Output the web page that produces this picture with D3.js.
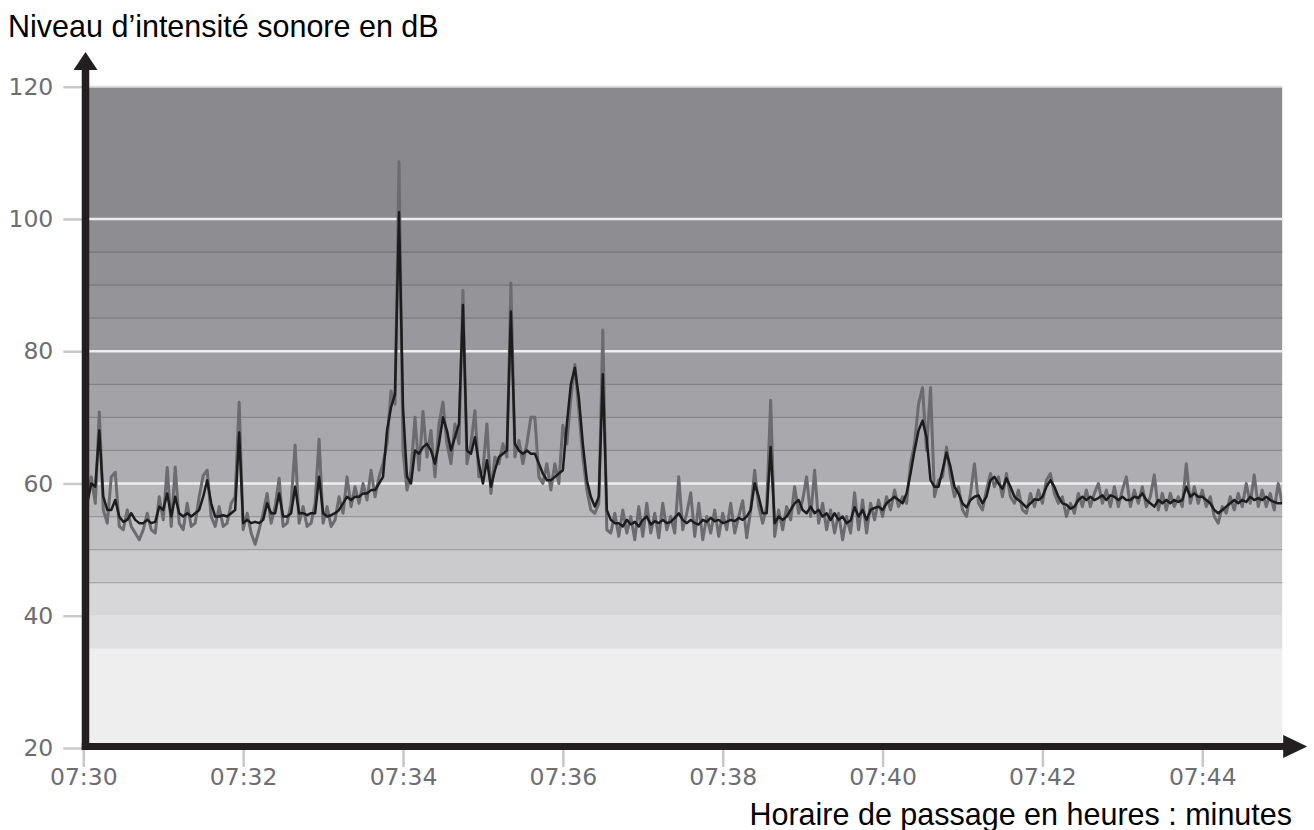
<!DOCTYPE html>
<html>
<head>
<meta charset="utf-8">
<script src="https://cdn.jsdelivr.net/npm/d3@7"></script>
<style>
  body { margin: 0; background: #fff; }
  svg { display: block; }
</style>
</head>
<body>
<svg id="chart" width="1314" height="830"></svg>
<script>
// time axis
const startTime = "07:30:00";
const endTime = "07:45:00";
const sampleStep = 3; // seconds between two readings
const xTickLabels = ["07:30", "07:32", "07:34", "07:36", "07:38", "07:40", "07:42", "07:44"];
const yTickValues = [20, 40, 60, 80, 100, 120];

// dB zones drawn behind the curves
const bandLevels = [20, 35, 40, 45, 50, 55, 60, 65, 70, 75, 80, 85, 90, 95, 100, 120];
const gridLevels = [45, 50, 55, 65, 70, 75, 85, 90, 95];
const whiteLevels = [60, 80, 100];

// smoothed level (black curve), one value every 3 s
const meanLevels = [
  58, 57, 60, 59.5, 68, 58, 56, 56, 57.5, 55,
  54.2, 54.5, 55.5, 54.5, 54, 54, 54.5, 54, 54.2, 56.5,
  56, 58.5, 55, 58, 55.5, 55, 55.5, 55, 55.5, 56,
  58, 60.5, 57, 55, 55, 55.2, 55, 55.5, 56, 67.7,
  54, 54.5, 54, 54.2, 54, 54.5, 57, 55.5, 55.5, 58.5,
  55, 55, 55.5, 59.5, 55.5, 55.5, 55.2, 55.5, 55.5, 61,
  55.5, 55, 55.2, 55.5, 56, 57, 58, 57.5, 58, 58,
  58.5, 58.5, 59, 59, 60, 61, 68, 71.5, 73.5, 101,
  71.5, 61, 60, 65, 64.5, 65.5, 66, 65, 63, 66,
  70, 68, 65, 67, 69, 87, 65, 64.5, 67, 63,
  60, 63.5, 59.5, 62, 64, 64.5, 65, 86, 66, 65,
  64.5, 65, 64.5, 64.5, 63, 61.5, 60.5, 60.5, 61, 61.5,
  62, 69, 75, 77.5, 73, 66, 60.5, 58, 56.5, 58,
  76.5, 56, 54.5, 54, 54, 53.5, 54.5, 53.8, 54.2, 53.5,
  54.5, 55, 53.8, 54.3, 54, 54.5, 54, 54.2, 54.8, 55.5,
  54.5, 54, 54.5, 54, 53.8, 54.5, 54.2, 54.8, 54.3, 54.5,
  54, 54.2, 54.5, 54.3, 54.8, 54.5, 55, 56, 60, 58,
  55.5, 55.5, 65.5, 54, 55, 54.5, 55, 56, 57, 57.5,
  56, 55.5, 56.5, 55.5, 56, 55, 55.5, 54.5, 55.5, 54.5,
  55, 54, 54.4, 56.4, 55, 56, 54.5, 56, 56.3, 56.5,
  56, 57, 57.5, 58, 57.5, 57, 58.5, 61.5, 65, 68,
  69.5, 67, 60.5, 59.5, 59.5, 62, 64.7, 62.5, 59.5, 58.5,
  57, 56.4, 57.5, 58, 58.2, 57, 58, 60.5, 61, 60,
  59.2, 60.8, 59.5, 58, 57.5, 57, 56.4, 57, 57.6, 57.5,
  58, 59.5, 60.5, 59.5, 58, 57, 56.8, 56.2, 56.5, 57.5,
  58, 57.5, 58, 57.5, 57.8, 58.2, 57.5, 58.2, 58, 57.5,
  58, 57.5, 57.5, 58, 57.8, 58.5, 57.5, 57, 56.5, 57.5,
  57, 57.5, 57, 57.5, 57.2, 57.5, 59.5, 58, 58.5, 58,
  58, 57.5, 57, 56, 55.5, 56, 56.5, 57, 57.5, 57,
  57.5, 57.2, 58, 57.5, 57.8, 57.5, 58, 57.5, 57.2, 57,
  57
];

// raw level (grey curve), same sampling
const rawLevels = [
  56.5, 58, 61, 57, 70.8, 56, 54, 61, 61.7, 53.5,
  53, 56, 53.5, 52.5, 51.5, 53, 55.5, 53, 52.5, 58,
  54.5, 62.4, 53.5, 62.5, 54, 53, 57, 53.5, 54, 58,
  61.2, 62, 55, 53.5, 56.5, 53.5, 54, 57, 58, 72.3,
  53, 55.5, 52.5, 50.8, 53, 55.5, 58.5, 54, 56.5, 60.8,
  53.5, 54, 57, 65.8, 54, 56.5, 53.5, 54, 57, 66.7,
  54, 56.5, 53.5, 54.5, 58, 55.5, 61, 56.5, 59.5, 57,
  60, 57.5, 62, 58, 61, 63, 66, 74, 72, 108.6,
  65, 59, 62, 70, 62, 70.9, 64, 68, 61, 69,
  72.3, 66, 63, 69, 66, 89.2, 63, 66, 71, 61,
  62, 69, 58.5, 64, 63, 66, 64, 90.3, 64, 66.5,
  63, 66, 70, 70, 61, 60, 63, 59, 63, 60,
  68.8, 66, 73, 78, 71, 64, 59, 56, 55.5, 57,
  83.2, 53, 52.5, 55.5, 52, 56, 52.5, 55, 51.5, 56.5,
  52, 57, 52.5, 55.5, 51.8, 57, 53, 55, 52.5, 61,
  53, 55.5, 58.6, 52, 57, 51.5, 55, 52.5, 56, 52,
  55.5, 53, 57, 52.5, 55, 57.4, 51.8, 56, 62, 56.5,
  54, 56.5, 72.6, 52, 56, 53, 56.5, 54.5, 59.5, 55.5,
  57.5, 61, 55, 62, 54, 57, 53, 56, 52.5, 55.5,
  51.5, 55, 52.5, 58.6, 53, 57.5, 52.5, 57, 54.5, 57.5,
  55, 58, 56, 59, 56.5, 58, 57, 63, 66, 72,
  74.5, 65, 74.5, 58, 60.5, 61, 65.5, 61, 58, 59.5,
  56, 55, 58.5, 63, 57, 56, 59, 61.5, 59.5, 61,
  58, 61.5, 58, 57, 59, 56, 55.5, 58.5, 56.5, 59,
  57, 60.5, 61.5, 58.5, 57, 58, 55, 57, 55.5, 58.5,
  56.5, 59, 56.5, 58.5, 60, 57, 59, 56.5, 59.5, 56.5,
  59, 61, 56.5, 59, 57, 59.5, 56.5, 58, 61.3, 56,
  58.5, 56, 58.5, 56.5, 58, 56.5, 63, 57, 59.5, 57,
  59, 56.5, 58, 55, 54, 56.5, 55.5, 58, 56, 58.5,
  56.5, 60, 57, 61.3, 56.5, 59, 56.5, 58.5, 56, 60,
  57
];

const bandFills = ["#eeeeee", "#e0e0e2", "#d7d7d9", "#cbcbcd", "#c1c1c4", "#b8b8bb", "#aeaeb2",
  "#a8a8ac", "#a3a3a7", "#9e9ea2", "#99999d", "#959599", "#919195", "#8e8e92", "#8a8a8e"];

const parseTime = d3.timeParse("%H:%M:%S");
const parseTick = d3.timeParse("%H:%M");
const t0 = parseTime(startTime);

const svg = d3.select("#chart");

const x = d3.scaleTime()
  .domain([t0, parseTime(endTime)])
  .range([83.3, 1282.2]);
const y = d3.scaleLinear()
  .domain([20, 120])
  .range([748, 86.7]);

const [left, right] = x.range();

// zones
const bands = d3.pairs(bandLevels).map((p, i) => ({ lo: p[0], hi: p[1], fill: bandFills[i] }));
svg.append("g")
  .selectAll("rect")
  .data(bands)
  .join("rect")
  .attr("x", left)
  .attr("width", right - left)
  .attr("y", d => y(d.hi))
  .attr("height", d => y(d.lo) - y(d.hi))
  .attr("fill", d => d.fill);

svg.append("g")
  .selectAll("line")
  .data(gridLevels)
  .join("line")
  .attr("x1", left).attr("x2", right)
  .attr("y1", d => y(d)).attr("y2", d => y(d))
  .attr("stroke", d => d3.color(bands.find(b => b.lo === d).fill).darker(0.55))
  .attr("stroke-width", 1.3);

svg.append("g")
  .selectAll("line")
  .data(whiteLevels)
  .join("line")
  .attr("x1", left).attr("x2", right)
  .attr("y1", d => y(d)).attr("y2", d => y(d))
  .attr("stroke", "#eeeeee")
  .attr("stroke-width", 2.6);

svg.append("line")
  .attr("x1", left).attr("x2", right)
  .attr("y1", y(120)).attr("y2", y(120))
  .attr("stroke", "#dcdcdc")
  .attr("stroke-width", 2);

// curves
svg.append("defs").append("clipPath").attr("id", "plot")
  .append("rect")
  .attr("x", left).attr("y", y(120))
  .attr("width", right - left).attr("height", y(20) - y(120));

const timeAt = i => d3.timeSecond.offset(t0, i * sampleStep);
const line = d3.line()
  .x((d, i) => x(timeAt(i)))
  .y(d => y(d));

const curves = svg.append("g").attr("clip-path", "url(#plot)");
curves.append("path")
  .datum(rawLevels)
  .attr("d", line)
  .attr("fill", "none")
  .attr("stroke", "#6c6c70")
  .attr("stroke-width", 3)
  .attr("stroke-linejoin", "round");
curves.append("path")
  .datum(meanLevels)
  .attr("d", line)
  .attr("fill", "none")
  .attr("stroke", "#1c1c1c")
  .attr("stroke-width", 2.5)
  .attr("stroke-linejoin", "round");

// axes
const yAxis = svg.append("g")
  .attr("transform", `translate(${left},0)`)
  .call(d3.axisLeft(y).tickValues(yTickValues).tickSize(20).tickPadding(10));
const xAxis = svg.append("g")
  .attr("transform", `translate(0,${y(20)})`)
  .call(d3.axisBottom(x)
    .tickValues(xTickLabels.map(parseTick))
    .tickFormat(d3.timeFormat("%H:%M"))
    .tickSize(19).tickPadding(1));

[yAxis, xAxis].forEach(g => {
  g.select(".domain").remove();
  g.selectAll(".tick line").attr("stroke", "#c8c8c8").attr("stroke-width", 2.5);
  g.selectAll(".tick text")
    .attr("fill", "#6e6e72")
    .style("font-family", "'DejaVu Sans', sans-serif")
    .style("font-size", "23.5px");
});

// thick black axes with arrows
const ax = left + 2.2;
const ay = y(20) - 1.6;
svg.append("line")
  .attr("x1", ax).attr("x2", ax)
  .attr("y1", ay + 3.5).attr("y2", 66)
  .attr("stroke", "#231f20").attr("stroke-width", 7.5);
svg.append("path")
  .attr("d", `M${ax - 12},70 L${ax + 12},70 L${ax},52 Z`)
  .attr("fill", "#231f20");
svg.append("line")
  .attr("x1", ax - 3.7).attr("x2", right + 3)
  .attr("y1", ay).attr("y2", ay)
  .attr("stroke", "#231f20").attr("stroke-width", 7);
svg.append("path")
  .attr("d", `M${right + 1},${ay - 11.5} L${right + 1},${ay + 11.5} L${right + 25},${ay} Z`)
  .attr("fill", "#231f20");

// titles
svg.append("text")
  .attr("x", 8)
  .attr("y", 37)
  .style("font-family", "'Liberation Sans', Arial, sans-serif")
  .style("font-size", "30.5px")
  .attr("fill", "#000")
  .text("Niveau d’intensité sonore en dB");

svg.append("text")
  .attr("x", 1292)
  .attr("y", 825)
  .attr("text-anchor", "end")
  .style("font-family", "'Liberation Sans', Arial, sans-serif")
  .style("font-size", "30.5px")
  .attr("fill", "#000")
  .text("Horaire de passage en heures : minutes");
</script>
</body>
</html>
